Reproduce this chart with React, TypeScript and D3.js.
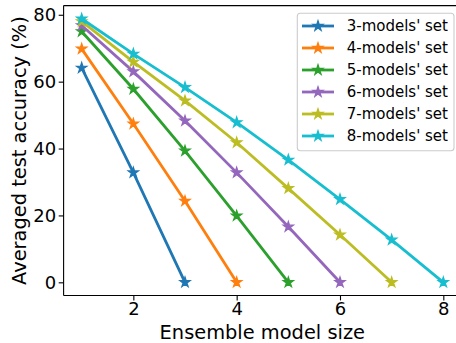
import React, { useEffect, useRef } from "react";
import * as d3 from "d3";

// ensemble sizes per set, and averaged test accuracy (%)
const setNames = ["3-models' set", "4-models' set", "5-models' set", "6-models' set", "7-models' set", "8-models' set"];
const colors = ["#1f77b4", "#ff7f0e", "#2ca02c", "#9467bd", "#bcbd22", "#17becf"];

const acc3 = [64.1, 32.8, 0];
const acc4 = [69.8, 47.4, 24.3, 0];
const acc5 = [75.0, 57.8, 39.3, 19.9, 0];
const acc6 = [76.8, 63.0, 48.3, 32.8, 16.6, 0];
const acc7 = [78.0, 65.9, 54.3, 41.8, 28.1, 14.2, 0];
const acc8 = [78.8, 68.3, 58.3, 47.8, 36.6, 24.8, 12.7, 0];

const allSeries = [acc3, acc4, acc5, acc6, acc7, acc8];
const xTicks = [2, 4, 6, 8];
const yTicks = [0, 20, 40, 60, 80];

const W = 456;
const H = 343;
const FONT = "DejaVu Sans, sans-serif";

// matplotlib-like 5 point star
function starPath(r: number) {
  const inner = r * 0.381966;
  const pts: [number, number][] = [];
  for (let i = 0; i < 10; i++) {
    const a = -Math.PI / 2 + (i * Math.PI) / 5;
    const rr = i % 2 === 0 ? r : inner;
    pts.push([rr * Math.cos(a), rr * Math.sin(a)]);
  }
  return "M" + pts.map((p) => p.join(",")).join("L") + "Z";
}

const App: React.FC = () => {
  const svgRef = useRef<SVGSVGElement>(null);

  useEffect(() => {
    if (!svgRef.current) return;
    const svg = d3.select(svgRef.current);
    svg.selectAll("*").remove();

    const left = 63.6;
    const right = 461.4;
    const top = 5.6;
    const bottom = 295.5;

    const yMax = d3.max(allSeries, (s) => d3.max(s)) || 0;
    const yPad = yMax * 0.05;

    const x = d3.scaleLinear().domain([0.65, 8.35]).range([left, right]);
    const y = d3.scaleLinear().domain([-yPad, yMax + yPad]).range([bottom, top]);

    const line = d3
      .line<number>()
      .x((_, i) => x(i + 1))
      .y((d) => y(d));

    const star = starPath(5.4);

    allSeries.forEach((s, k) => {
      svg
        .append("path")
        .datum(s)
        .attr("fill", "none")
        .attr("stroke", colors[k])
        .attr("stroke-width", 2.8)
        .attr("d", line);
      svg
        .append("g")
        .selectAll("path")
        .data(s)
        .enter()
        .append("path")
        .attr("d", star)
        .attr("transform", (d, i) => `translate(${x(i + 1)},${y(d)})`)
        .attr("fill", colors[k])
        .attr("stroke", colors[k])
        .attr("stroke-width", 1.2)
        .attr("stroke-linejoin", "miter");
    });

    // spines
    const spine = svg.append("g").attr("stroke", "#000").attr("stroke-width", 1.1).attr("fill", "none");
    spine.append("line").attr("x1", left).attr("x2", left).attr("y1", top).attr("y2", bottom);
    spine.append("line").attr("x1", left).attr("x2", right).attr("y1", bottom).attr("y2", bottom);
    spine.append("line").attr("x1", left).attr("x2", right).attr("y1", top).attr("y2", top);
    spine.append("line").attr("x1", right).attr("x2", right).attr("y1", top).attr("y2", bottom);

    // axes
    const gx = svg
      .append("g")
      .attr("transform", `translate(0,${bottom})`)
      .call(d3.axisBottom(x).tickValues(xTicks).tickSize(4.9).tickPadding(1.4).tickFormat(d3.format("d")));
    const gy = svg
      .append("g")
      .attr("transform", `translate(${left},0)`)
      .call(d3.axisLeft(y).tickValues(yTicks).tickSize(4.9).tickPadding(2.6).tickFormat(d3.format("d")));
    [gx, gy].forEach((g) => {
      g.select(".domain").remove();
      g.selectAll("line").attr("stroke", "#000").attr("stroke-width", 1.1);
      g.selectAll("text").attr("fill", "#000").style("font-family", FONT).style("font-size", "18px");
      g.attr("font-size", null).attr("font-family", null);
    });

    // axis labels
    svg
      .append("text")
      .attr("x", (left + 455) / 2 + 3)
      .attr("y", 339.3)
      .attr("text-anchor", "middle")
      .style("font-family", FONT)
      .style("font-size", "19.4px")
      .text("Ensemble model size");
    svg
      .append("text")
      .attr("transform", `translate(26,${(top + bottom) / 2}) rotate(-90)`)
      .attr("text-anchor", "middle")
      .style("font-family", FONT)
      .style("font-size", "19.4px")
      .text("Averaged test accuracy (%)");

    // legend
    const lg = svg.append("g");
    lg.append("rect")
      .attr("x", 297.3)
      .attr("y", 13.3)
      .attr("width", 156.7)
      .attr("height", 137.4)
      .attr("rx", 3)
      .attr("fill", "rgba(255,255,255,0.8)")
      .attr("stroke", "#cccccc")
      .attr("stroke-width", 1.1);
    const rowY = d3.scaleLinear().domain([0, 5]).range([26, 136]);
    const legendStar = starPath(5.4);
    setNames.forEach((name, k) => {
      const cy = rowY(k);
      lg.append("line")
        .attr("x1", 302)
        .attr("x2", 334)
        .attr("y1", cy)
        .attr("y2", cy)
        .attr("stroke", colors[k])
        .attr("stroke-width", 2.8);
      lg.append("path")
        .attr("d", legendStar)
        .attr("transform", `translate(318,${cy})`)
        .attr("fill", colors[k])
        .attr("stroke", colors[k])
        .attr("stroke-width", 1.2);
      lg.append("text")
        .attr("x", 346.7)
        .attr("y", cy)
        .attr("dy", "0.36em")
        .style("font-family", FONT)
        .style("font-size", "15px")
        .text(name);
    });
  }, []);

  return (
    <svg
      ref={svgRef}
      width={W}
      height={H}
      style={{ position: "absolute", left: 0, top: 0, background: "#fff" }}
    ></svg>
  );
};

export default App;
